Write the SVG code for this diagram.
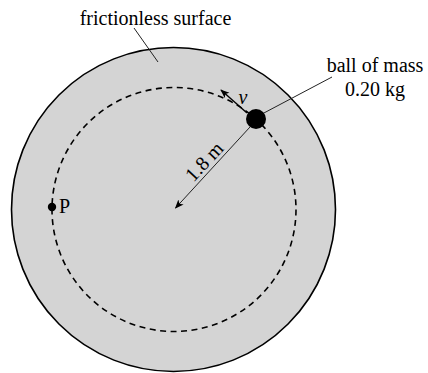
<svg xmlns="http://www.w3.org/2000/svg" width="428" height="373" viewBox="0 0 428 373">
<style>
text{font-family:"Liberation Serif","Times New Roman",serif;font-size:20px;fill:#000}
.lead{stroke:#222;stroke-width:1;fill:none}
</style>
<defs>
<marker id="ah" viewBox="0 0 10 10" refX="9" refY="5" markerWidth="9" markerHeight="9" markerUnits="userSpaceOnUse" orient="auto">
<path d="M0,1 L10,5 L0,9 L2.5,5 Z" fill="#000"/>
</marker>
</defs>
<rect width="428" height="373" fill="#fff"/>
<g id="surface">
<circle cx="173.5" cy="209.5" r="162" fill="#d4d4d4" stroke="#000" stroke-width="1.6"/>
</g>
<g id="path-circle">
<circle cx="174" cy="209.5" r="122" fill="none" stroke="#000" stroke-width="1.6" stroke-dasharray="6,4.5"/>
</g>
<g id="connectors">
<line class="lead" x1="134" y1="28" x2="158" y2="62"/>
<line class="lead" x1="332" y1="77" x2="262" y2="114"/>
<line x1="250" y1="127" x2="175.5" y2="208" stroke="#222" stroke-width="1" marker-end="url(#ah)"/>
<line x1="247" y1="113" x2="221" y2="90" stroke="#000" stroke-width="1.4" marker-end="url(#ah)"/>
</g>
<g id="ball">
<circle cx="256" cy="119" r="10" fill="#000"/>
</g>
<g id="point-P">
<circle cx="52" cy="207" r="4.2" fill="#000"/>
<text x="59" y="213">P</text>
</g>
<g id="labels">
<text x="155.5" y="25" text-anchor="middle">frictionless surface</text>
<text x="375" y="72" text-anchor="middle">ball of mass</text>
<text x="375" y="96" text-anchor="middle">0.20 kg</text>
<text x="243" y="104" text-anchor="middle" font-style="italic">v</text>
<text x="209" y="166" text-anchor="middle" transform="rotate(-47 209 166)">1.8 m</text>
</g>
</svg>
